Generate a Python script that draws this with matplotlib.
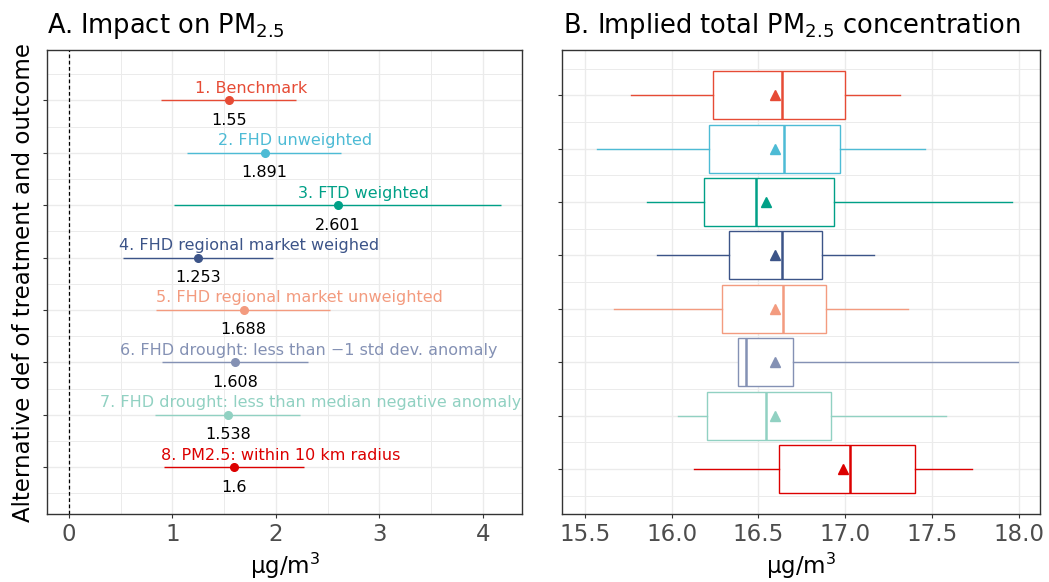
import matplotlib
matplotlib.use("Agg")
import matplotlib.pyplot as plt
from matplotlib.ticker import MultipleLocator

plt.rcParams['font.family'] = ['DejaVu Sans']
plt.rcParams['mathtext.fontset'] = 'dejavusans'

# ---------------- data ----------------
labels = ["1. Benchmark", "2. FHD unweighted", "3. FTD weighted",
          "4. FHD regional market weighed", "5. FHD regional market unweighted",
          "6. FHD drought: less than \u22121 std dev. anomaly",
          "7. FHD drought: less than median negative anomaly",
          "8. PM2.5: within 10 km radius"]
estimates = [1.55, 1.891, 2.601, 1.253, 1.688, 1.608, 1.538, 1.6]
estimate_text = ["1.55", "1.891", "2.601", "1.253", "1.688", "1.608", "1.538", "1.6"]
ci_low = [0.895, 1.146, 1.017, 0.525, 0.844, 0.905, 0.834, 0.921]
ci_high = [2.196, 2.631, 4.177, 1.971, 2.525, 2.306, 2.235, 2.274]
label_x = [1.765, 2.182, 2.850, 1.744, 2.227, 2.319, 2.334, 2.051]

box_whislo = [15.767, 15.569, 15.857, 15.918, 15.670, 16.384, 16.039, 16.128]
box_q1 = [16.239, 16.216, 16.185, 16.329, 16.290, 16.384, 16.206, 16.617]
box_med = [16.636, 16.649, 16.487, 16.638, 16.643, 16.430, 16.546, 17.029]
box_q3 = [16.999, 16.968, 16.937, 16.864, 16.887, 16.699, 16.916, 17.402]
box_whishi = [17.313, 17.459, 17.958, 17.167, 17.360, 17.993, 17.578, 17.728]
box_mean = [16.597, 16.597, 16.544, 16.597, 16.597, 16.597, 16.597, 16.985]

colors = ["#E64B35", "#4DBBD5", "#00A087", "#3C5488",
          "#F39B7F", "#8491B4", "#91D1C2", "#DC0000"]

W, H = 1049, 582
fig = plt.figure(figsize=(W / 100, H / 100), dpi=100)

axA = fig.add_axes([47 / W, 1 - 514.3 / H, (522.3 - 47) / W, (514.3 - 50) / H])
axB = fig.add_axes([562.3 / W, 1 - 514.3 / H, (1040.3 - 562.3) / W, (514.3 - 50) / H])

rows = list(range(1, len(labels) + 1))

grid_c = "#EBEBEB"
spine_c = "#333333"
tick_c = "#4D4D4D"


def style(ax):
    for s in ax.spines.values():
        s.set_color(spine_c)
        s.set_linewidth(1.0)
    ax.set_axisbelow(True)
    ax.grid(which='major', color=grid_c, lw=1.0)
    ax.grid(which='minor', color=grid_c, lw=0.7)
    ax.tick_params(which='major', length=3, width=0.8, color=spine_c,
                   labelsize=16.5, labelcolor=tick_c, pad=3)
    ax.tick_params(which='minor', length=0)
    ax.set_yticks(rows)
    ax.set_yticklabels([])
    ax.yaxis.set_minor_locator(MultipleLocator(0.5))


# ---------------- panel A ----------------
style(axA)
axA.set_xlim(-0.21, 4.38)
axA.set_ylim(8.899, 0.038)
axA.xaxis.set_major_locator(MultipleLocator(1))
axA.xaxis.set_minor_locator(MultipleLocator(0.5))
axA.axvline(0, color="black", lw=0.9, ls=(0, (3, 2)))
for i, r in enumerate(rows):
    c = colors[i]
    axA.plot([ci_low[i], ci_high[i]], [r, r], color=c, lw=1.0, solid_capstyle='butt')
    axA.plot([estimates[i]], [r], 'o', color=c, ms=5.5, mec=c)
    axA.text(label_x[i], r - 0.23, labels[i], color=c, fontsize=11.5,
             ha='center', va='center')
    axA.text(estimates[i], r + 0.38, estimate_text[i], color="black", fontsize=11.5,
             ha='center', va='center')
axA.set_xlabel("\u03bcg/m$^3$", fontsize=16.5, labelpad=4)

# ---------------- panel B ----------------
style(axB)
axB.set_xlim(15.371, 18.123)
axB.set_ylim(8.847, 0.153)
axB.xaxis.set_major_locator(MultipleLocator(0.5))
axB.xaxis.set_major_formatter(matplotlib.ticker.FormatStrFormatter('%.1f'))
stats = []
for i in range(len(rows)):
    stats.append(dict(whislo=box_whislo[i], q1=box_q1[i], med=box_med[i],
                      q3=box_q3[i], whishi=box_whishi[i], mean=box_mean[i],
                      fliers=[]))
for i, r in enumerate(rows):
    c = colors[i]
    axB.bxp([stats[i]], positions=[r], widths=0.9, vert=False, showcaps=False,
            showfliers=False, showmeans=True, patch_artist=True,
            boxprops=dict(facecolor='white', edgecolor=c, lw=1.0),
            whiskerprops=dict(color=c, lw=1.0),
            medianprops=dict(color=c, lw=1.8),
            meanprops=dict(marker='^', markerfacecolor=c, markeredgecolor=c,
                           markersize=7.5))
axB.set_yticks(rows)
axB.set_yticklabels([])
axB.set_xlabel("\u03bcg/m$^3$", fontsize=16.5, labelpad=4)

# ---------------- titles & labels ----------------
fig.text(47 / W, 1 - 33 / H, "A. Impact on PM$_{\\mathregular{2.5}}$",
         fontsize=18.5, ha='left', va='baseline')
fig.text(563 / W, 1 - 33 / H, "B. Implied total PM$_{\\mathregular{2.5}}$ concentration",
         fontsize=18.5, ha='left', va='baseline')
fig.text(24 / W, 1 - 282 / H, "Alternative def of treatment and outcome",
         fontsize=16.5, rotation=90, ha='center', va='center')

fig.savefig("out.png", dpi=100)
